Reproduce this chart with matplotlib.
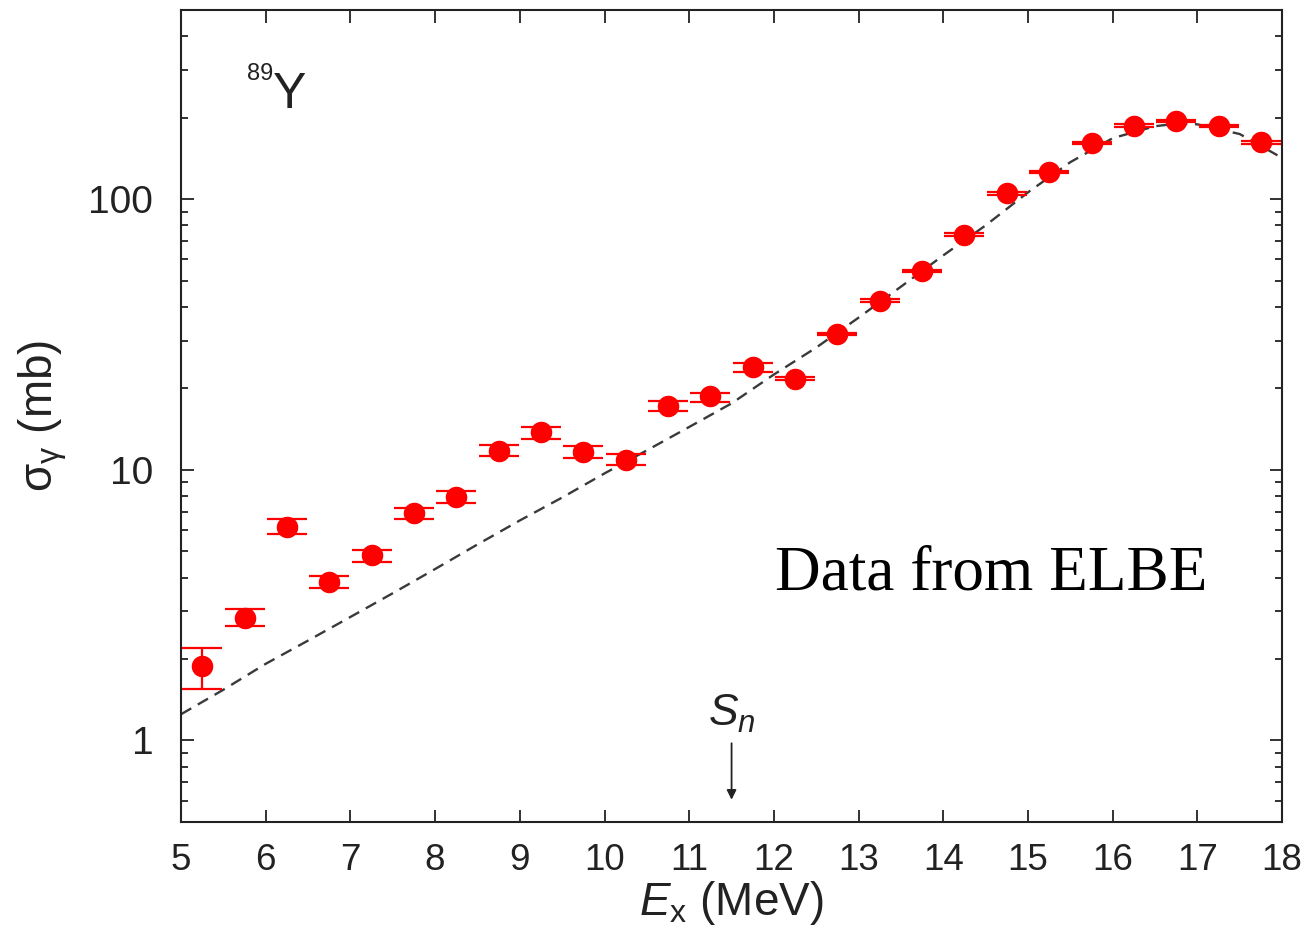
import numpy as np
import matplotlib
matplotlib.use("Agg")
import matplotlib.pyplot as plt
from matplotlib import font_manager
from matplotlib.ticker import LogLocator, NullFormatter, FixedLocator

# photoabsorption cross section of 89Y, ELBE bins (0.5 MeV wide)
energy = [5.25, 5.75, 6.25, 6.75, 7.25, 7.75, 8.25, 8.75, 9.25, 9.75,
          10.25, 10.75, 11.25, 11.75, 12.25, 12.75, 13.25, 13.75, 14.25,
          14.75, 15.25, 15.75, 16.25, 16.75, 17.25, 17.75]
sigma = [1.88, 2.83, 6.15, 3.85, 4.84, 6.93, 7.96, 11.75, 13.8, 11.6,
         10.9, 17.2, 18.7, 23.9, 21.7, 31.8, 42.2, 54.2, 74.0,
         105.0, 126.0, 161.0, 187.0, 194.0, 186.0, 162.0]
err_lo = [0.33, 0.19, 0.36, 0.19, 0.27, 0.35, 0.40, 0.50, 0.80, 0.50,
          0.50, 0.70, 0.90, 1.00, 0.25, 0.35, 0.45, 0.6, 0.8,
          1.1, 1.3, 1.7, 2.0, 2.0, 2.0, 1.7]
err_hi = [0.31, 0.23, 0.43, 0.20, 0.22, 0.28, 0.39, 0.55, 0.60, 0.60,
          0.50, 0.80, 0.60, 1.00, 0.25, 0.35, 0.45, 0.6, 0.8,
          1.1, 1.3, 1.7, 2.0, 2.0, 2.0, 1.7]

# GDR model curve
model_e = [5.0, 5.5, 6.0, 6.5, 7.0, 7.5, 8.0, 8.5, 9.0, 9.5, 10.0, 10.5,
           11.0, 11.5, 12.0, 12.5, 13.0, 13.5, 14.0, 14.5, 15.0, 15.5,
           16.0, 16.5, 16.75, 17.0, 17.5, 18.0]
model_sigma = [1.25, 1.54, 1.92, 2.34, 2.86, 3.5, 4.3, 5.3, 6.5, 7.9, 9.7,
               11.8, 14.4, 17.6, 22.5, 28.3, 36.5, 47.5, 62.0, 80.0, 106.0,
               137.0, 168.0, 186.0, 190.0, 189.0, 174.0, 142.0]

s_n = 11.5
xticks = list(range(5, 19))

names = {f.name for f in font_manager.fontManager.ttflist}
sans = "Liberation Sans" if "Liberation Sans" in names else "DejaVu Sans"
serif = "Liberation Serif" if "Liberation Serif" in names else "DejaVu Serif"
plt.rcParams["font.family"] = [sans, "DejaVu Sans"]
plt.rcParams["mathtext.fontset"] = "custom"
plt.rcParams["mathtext.rm"] = sans
plt.rcParams["mathtext.it"] = sans + ":italic"

ink = "#222222"

fig = plt.figure(figsize=(13.08, 9.41), dpi=100)
ax = fig.add_axes([0.1384, 0.1265, 0.8418, 0.8629])

ax.plot(model_e, model_sigma, color="#3a3a3a", lw=1.7,
        dashes=(5.0, 3.2), zorder=2)
ax.errorbar(energy, sigma, yerr=[err_lo, err_hi], fmt="o", color="red",
            ms=14.5, elinewidth=1.6, capsize=14.5, capthick=1.6, zorder=3)

ax.set_yscale("log")
ax.set_xlim(5, 18)
ax.set_ylim(0.5, 500)
ax.xaxis.set_major_locator(FixedLocator(xticks))
ax.yaxis.set_major_locator(FixedLocator([1, 10, 100]))
ax.yaxis.set_minor_locator(LogLocator(base=10, subs=np.arange(2, 10)))
ax.yaxis.set_minor_formatter(NullFormatter())
ax.set_yticklabels(["1", "10", "100"])
ax.tick_params(which="both", direction="in", top=True, right=True,
               color=ink, width=1.3)
ax.tick_params(which="major", length=9)
ax.tick_params(which="minor", length=5)
ax.tick_params(axis="y", labelsize=28, pad=20, labelcolor=ink)
ax.tick_params(axis="x", labelsize=26.5, pad=15, labelcolor=ink)
for sp in ax.spines.values():
    sp.set_linewidth(1.5)
    sp.set_color(ink)

ax.set_xlabel(r"$\mathit{E}_{\mathrm{x}}$ (MeV)", fontsize=33, color=ink,
              labelpad=1)
ax.set_ylabel(r"σ$_{\mathrm{\gamma}}$ (mb)", fontsize=33, color=ink,
              labelpad=14)

# nucleus label
ax.text(0.0835, 0.914, "89", transform=ax.transAxes, fontsize=17,
        color=ink, ha="right", va="baseline")
ax.text(0.0836, 0.879, "Y", transform=ax.transAxes, fontsize=36,
        color=ink, ha="left", va="baseline")

ax.text(0.5395, 0.286, "Data from ELBE", transform=ax.transAxes,
        fontsize=45.5, family=[serif, "DejaVu Serif"], color="black",
        ha="left", va="baseline")

# neutron separation energy
ax.annotate("", xy=(s_n, 0.59), xytext=(s_n, 1.0),
            arrowprops=dict(arrowstyle="-|>", color=ink, lw=1.3,
                            mutation_scale=14))
ax.text(s_n, 1.05, r"$S_{n}$", fontsize=32, color=ink, ha="center",
        va="bottom")

fig.savefig("out.png", dpi=100)
